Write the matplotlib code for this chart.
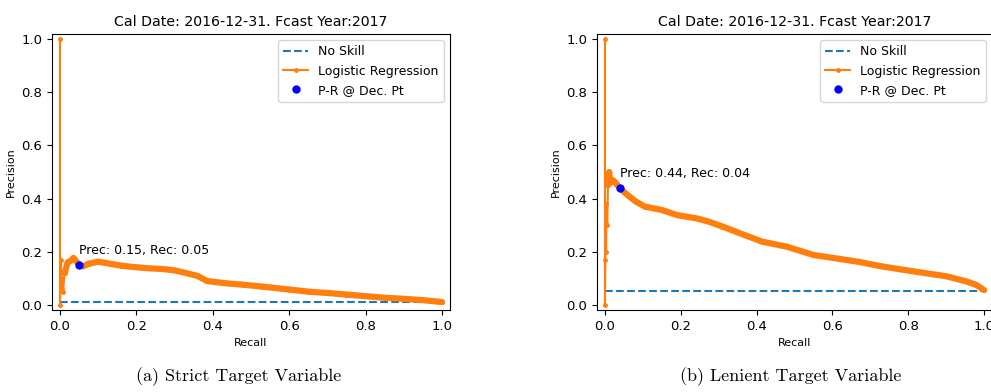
import matplotlib
matplotlib.use('Agg')
import matplotlib.pyplot as plt

# PR curve, strict target
strict_rec = [0.0, 0.0, 0.002, 0.004, 0.006, 0.008, 0.012, 0.02, 0.03, 0.035, 0.045, 0.052,
              0.06, 0.075, 0.1, 0.13, 0.16, 0.19, 0.23, 0.27, 0.3, 0.33, 0.36, 0.385, 0.43,
              0.48, 0.53, 0.6, 0.65, 0.7, 0.75, 0.8, 0.85, 0.9, 0.95, 1.0]
strict_prec = [1.0, 0.0, 0.17, 0.06, 0.1, 0.05, 0.12, 0.16, 0.168, 0.177, 0.16, 0.15,
               0.145, 0.155, 0.163, 0.155, 0.148, 0.143, 0.138, 0.135, 0.13, 0.12, 0.109, 0.09, 0.082,
               0.076, 0.069, 0.058, 0.05, 0.045, 0.039, 0.033, 0.027, 0.023, 0.018, 0.011]
strict_noskill = 0.0125
strict_pt = (0.05, 0.15)

# lenient target
lenient_rec = [0.0, 0.0, 0.001, 0.002, 0.003, 0.004, 0.006, 0.008, 0.011, 0.014, 0.02, 0.028,
               0.038, 0.05, 0.06, 0.08, 0.105, 0.15, 0.19, 0.24, 0.27, 0.31, 0.355, 0.415,
               0.48, 0.55, 0.61, 0.67, 0.73, 0.82, 0.9, 0.95, 0.98, 1.0]
lenient_prec = [1.0, 0.0, 0.17, 0.3, 0.2, 0.38, 0.3, 0.45, 0.5, 0.46, 0.47, 0.46,
                0.441, 0.425, 0.413, 0.39, 0.37, 0.357, 0.338, 0.326, 0.315, 0.295, 0.27, 0.238,
                0.219, 0.188, 0.175, 0.162, 0.145, 0.125, 0.108, 0.09, 0.075, 0.056]
lenient_noskill = 0.053
lenient_pt = (0.04, 0.44)

title = 'Cal Date: 2016-12-31. Fcast Year:2017'
captions = ['(a) Strict Target Variable', '(b) Lenient Target Variable']

fs = 9.5

fig = plt.figure(figsize=(9.91, 3.92), dpi=100)
W, H = 991, 392


def pr_panel(ax, rec, prec, noskill, pt, dense_from):
    ax.plot([0, 1], [noskill, noskill], linestyle='--', color='#1f77b4', label='No Skill')
    # thick underlay to mimic the dense markers of the original curve
    ax.plot(rec[dense_from:], prec[dense_from:], color='#ff7f0e', lw=4.5, solid_capstyle='round')
    ax.plot(rec, prec, marker='.', markersize=5, color='#ff7f0e', label='Logistic Regression')
    ax.plot([pt[0]], [pt[1]], 'o', color='blue', markersize=5, label='P-R @ Dec. Pt', zorder=5)
    ax.annotate('Prec: %.2f, Rec: %.2f' % (pt[1], pt[0]), pt, textcoords='offset points',
                xytext=(0, 8), ha='left', fontsize=9)
    ax.set_xlim(-0.021, 1.021)
    ax.set_ylim(-0.019, 1.019)
    ax.set_xlabel('Recall', fontsize=8)
    ax.set_ylabel('Precision', fontsize=8)
    ax.set_title(title, fontsize=10.2)
    ax.tick_params(labelsize=fs)
    ax.legend(loc='upper right', fontsize=9)


ax1 = fig.add_axes([52 / W, (H - 310) / H, 398 / W, 276 / H])
pr_panel(ax1, strict_rec, strict_prec, strict_noskill, strict_pt, 6)

ax2 = fig.add_axes([597 / W, (H - 310) / H, 395 / W, 276 / H])
pr_panel(ax2, lenient_rec, lenient_prec, lenient_noskill, lenient_pt, 7)

fig.text(239 / W, 1 - 377 / H, captions[0], ha='center', va='center', family='cmr10', fontsize=13)
fig.text(791 / W, 1 - 377 / H, captions[1], ha='center', va='center', family='cmr10', fontsize=13)

fig.savefig('out.png', dpi=100)
